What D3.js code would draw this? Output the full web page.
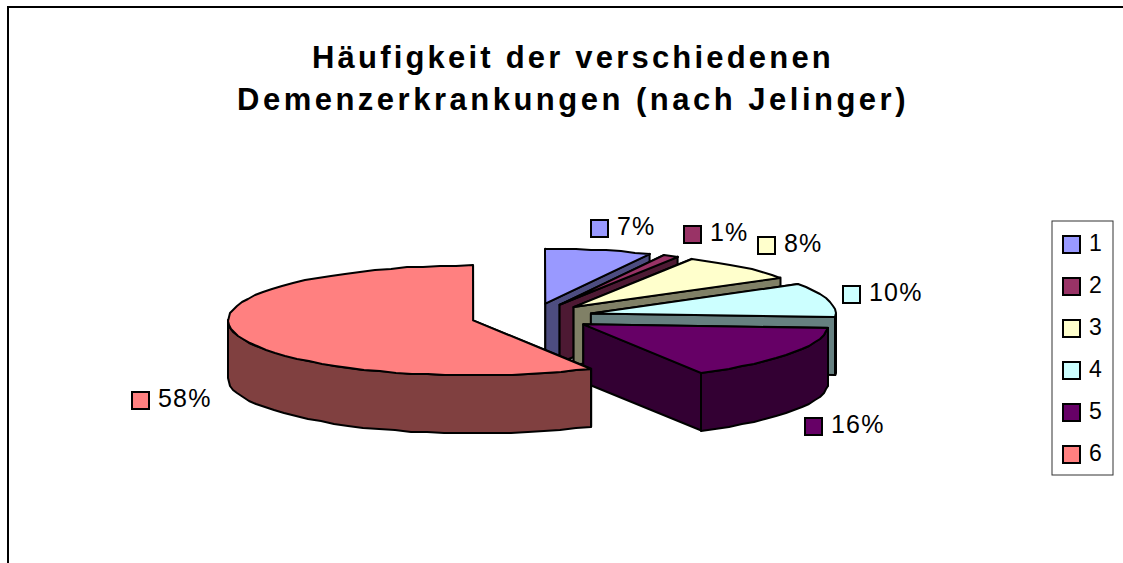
<!DOCTYPE html>
<html><head><meta charset="utf-8">
<script src="https://cdnjs.cloudflare.com/ajax/libs/d3/7.8.5/d3.min.js"></script>
<style>html,body{margin:0;padding:0;background:#fff}svg{display:block}text{font-family:"Liberation Sans",Arial,sans-serif;fill:#000}</style>
</head><body><svg id="c" width="1123" height="563"></svg>
<script>
const categories = ["1","2","3","4","5","6"];
const values = [7,1,8,10,16,58];
const labels = ["7%","1%","8%","10%","16%","58%"];
const topColors = ["#9999FF","#993366","#FFFFCC","#CCFFFF","#660066","#FF8080"];
const sideColors = ["#4D4D80","#4D1933","#808066","#668080","#330033","#804040"];
const titleLines = ["Häufigkeit der verschiedenen","Demenzerkrankungen (nach Jelinger)"];
const labelPos = [[591,220],[684,226],[758,237],[843,286],[805,418],[132,392]];

const svg = d3.select("#c");
svg.append("path").attr("d","M8,563V7H1123").attr("fill","none").attr("stroke","#000").attr("stroke-width",2);

const W=245,H=55,D=58,EX=.248,CX=532,CY=317;
const px=d3.scaleLinear().domain([-1,1]).range([-W,W]);
const py=d3.scaleLinear().domain([-1,1]).range([-H,H]);
const arcs=d3.pie().sort(null).value(d=>d)(values);
const pts=(cx,cy,a0,a1,dy=0)=>{
  const n=Math.max(2,Math.ceil((a1-a0)/0.07)),r=[];
  for(let i=0;i<=n;i++){const a=a0+(a1-a0)*i/n;r.push([Math.round(cx+px(Math.sin(a))),Math.round(cy+py(-Math.cos(a))+dy)]);}
  return r;};
const poly=p=>"M"+p.map(q=>q[0].toFixed(1)+","+q[1].toFixed(1)).join("L")+"Z";
const g=svg.append("g").attr("stroke","#000").attr("stroke-width",2).attr("stroke-linejoin","round");
arcs.forEach((d,i)=>{
  const m=(d.startAngle+d.endAngle)/2;
  const cx=CX+EX*px(Math.sin(m)),cy=CY+EX*py(-Math.cos(m));
  const a0=d.startAngle,a1=d.endAngle;
  [a0,a1].forEach(a=>{
    const o=[cx+px(Math.sin(a)),cy+py(-Math.cos(a))];
    g.append("path").attr("d",poly([[cx,cy],o,[o[0],o[1]+D],[cx,cy+D]])).attr("fill",sideColors[i]);
  });
  const r0=Math.max(a0,Math.PI/2),r1=Math.min(a1,3*Math.PI/2);
  if(r1>r0){
    const up=pts(cx,cy,r0,r1),dn=pts(cx,cy,r0,r1,D).reverse();
    g.append("path").attr("d",poly(up.concat(dn))).attr("fill",sideColors[i]);
  }
  g.append("path").attr("d",poly([[cx,cy]].concat(pts(cx,cy,a0,a1)))).attr("fill",topColors[i]);
});
labels.forEach((t,i)=>{
  const [x,y]=labelPos[i];
  svg.append("rect").attr("x",x).attr("y",y).attr("width",17).attr("height",17)
    .attr("fill",topColors[i]).attr("stroke","#000").attr("stroke-width",2);
  svg.append("text").attr("x",x+26).attr("y",y+15).attr("font-size",25).attr("letter-spacing",1.2).text(t);
});
svg.append("rect").attr("x",1052).attr("y",221).attr("width",61).attr("height",254)
  .attr("fill","#fff").attr("stroke","#333").attr("stroke-width",1);
const ly=d3.scalePoint().domain(categories).range([245,455]);
categories.forEach((c,i)=>{
  svg.append("rect").attr("x",1063).attr("y",ly(c)-9).attr("width",17).attr("height",17)
    .attr("fill",topColors[i]).attr("stroke","#000").attr("stroke-width",2);
  svg.append("text").attr("x",1089).attr("y",ly(c)+6).attr("font-size",23).text(c);
});
titleLines.forEach((t,i)=>{
  svg.append("text").attr("x",573).attr("y",68+i*42).attr("text-anchor","middle")
   .attr("font-size",31).attr("font-weight","bold").attr("letter-spacing",i?3.5:3.2).text(t);
});
</script></body></html>
